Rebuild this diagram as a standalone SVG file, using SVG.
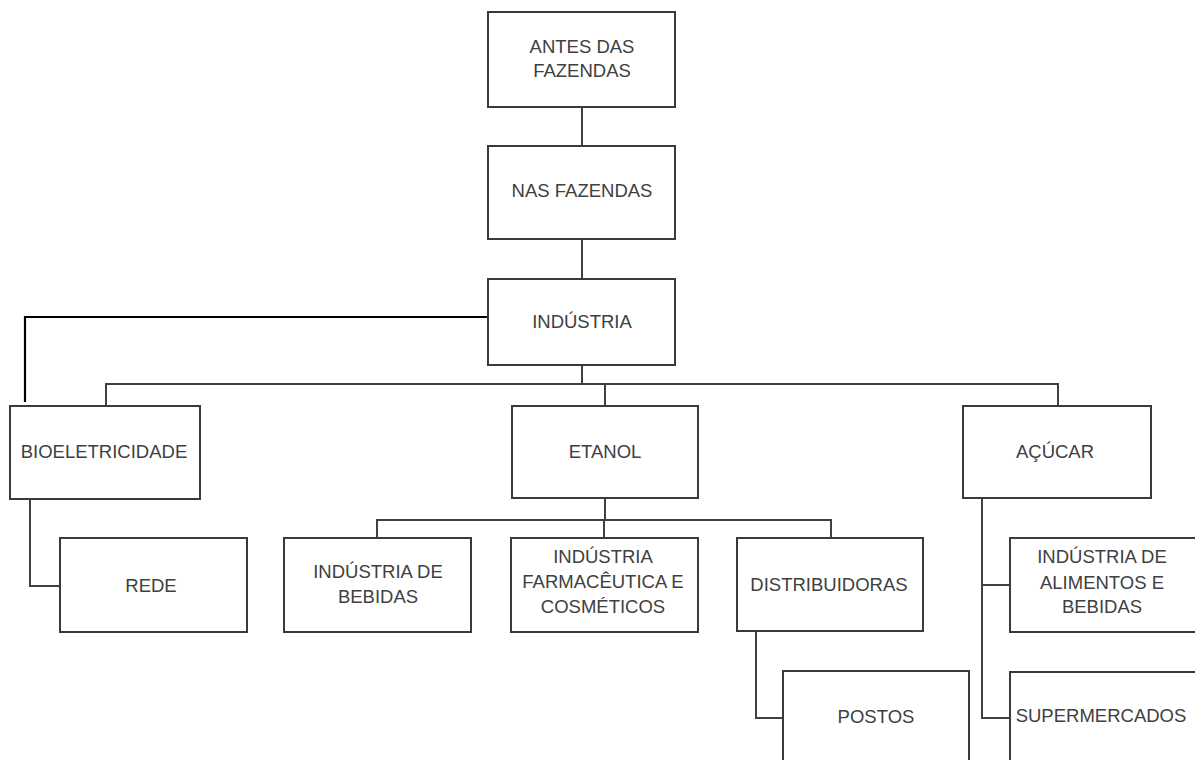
<svg xmlns="http://www.w3.org/2000/svg" width="1195" height="760" viewBox="0 0 1195 760">
<style>
.box{fill:#fff;stroke:#3a3a3a;stroke-width:2}
.t{font-family:"Liberation Sans",Arial,sans-serif;font-size:18.5px;fill:#404040;text-anchor:middle}
.c{fill:none;stroke:#404040;stroke-width:2}
.k{fill:none;stroke:#000;stroke-width:2.2}
</style>
<rect width="1195" height="760" fill="#fff"/>
<g id="connectors">
<path class="c" d="M582 107V146M582 239V279"/>
<path class="c" d="M582 365V384M106 406V384H1058V406M605 384V406"/>
<path class="k" d="M488 317H25V402"/>
<path class="c" d="M30 499V586H60"/>
<path class="c" d="M605 498V520M377 538V520H831V538M604 520V538"/>
<path class="c" d="M756 631V718H783"/>
<path class="c" d="M982 498V718H1010M982 585H1010"/>
</g>
<g id="antes"><rect class="box" x="488" y="12" width="187" height="95"/><text class="t" x="582" y="53">ANTES DAS</text><text class="t" x="582" y="77">FAZENDAS</text></g>
<g id="nas"><rect class="box" x="488" y="146" width="187" height="93"/><text class="t" x="582" y="197">NAS FAZENDAS</text></g>
<g id="industria"><rect class="box" x="488" y="279" width="187" height="86"/><text class="t" x="582" y="328">INDÚSTRIA</text></g>
<g id="bio"><rect class="box" x="10" y="406" width="190" height="93"/><text class="t" x="104" y="458">BIOELETRICIDADE</text></g>
<g id="etanol"><rect class="box" x="512" y="406" width="186" height="92"/><text class="t" x="605" y="458">ETANOL</text></g>
<g id="acucar"><rect class="box" x="963" y="406" width="188" height="92"/><text class="t" x="1055" y="458">AÇÚCAR</text></g>
<g id="rede"><rect class="box" x="60" y="538" width="187" height="94"/><text class="t" x="151" y="592">REDE</text></g>
<g id="bebidas"><rect class="box" x="284" y="538" width="187" height="94"/><text class="t" x="378" y="578">INDÚSTRIA DE</text><text class="t" x="378" y="603">BEBIDAS</text></g>
<g id="farma"><rect class="box" x="511" y="538" width="187" height="94"/><text class="t" x="603" y="563">INDÚSTRIA</text><text class="t" x="603" y="588">FARMACÊUTICA E</text><text class="t" x="603" y="613">COSMÉTICOS</text></g>
<g id="distrib"><rect class="box" x="737" y="538" width="186" height="93"/><text class="t" x="829" y="591">DISTRIBUIDORAS</text></g>
<g id="postos"><rect class="box" x="783" y="671" width="186" height="110"/><text class="t" x="876" y="723">POSTOS</text></g>
<g id="alimentos"><rect class="box" x="1010" y="538" width="200" height="94"/><text class="t" x="1102" y="563">INDÚSTRIA DE</text><text class="t" x="1102" y="589">ALIMENTOS E</text><text class="t" x="1102" y="613">BEBIDAS</text></g>
<g id="super"><rect class="box" x="1010" y="672" width="200" height="110"/><text class="t" x="1101" y="722">SUPERMERCADOS</text></g>
</svg>
